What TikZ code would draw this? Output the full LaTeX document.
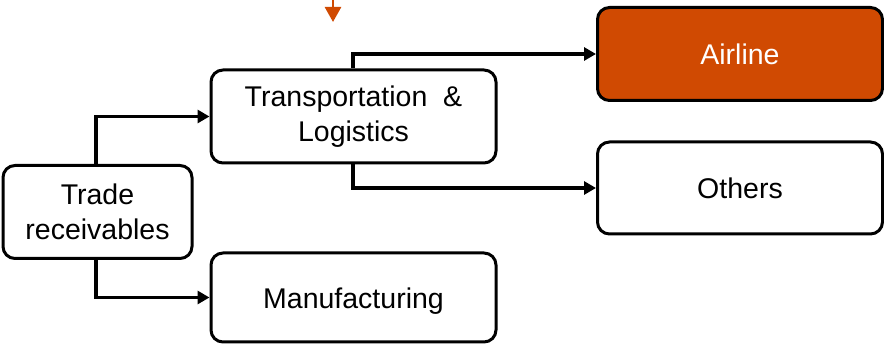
\documentclass[tikz,border=0pt]{standalone}
\usepackage{fontspec}
\setmainfont{Liberation Sans}
\usetikzlibrary{arrows.meta}
\definecolor{pwcorange}{HTML}{D04A02}
\begin{document}
\begin{tikzpicture}[x=1pt,y=-1pt,
  box/.style={draw=black, line width=3pt, rounded corners=12pt, fill=white,
    align=center, font=\fontsize{28.5}{34.5}\selectfont, inner sep=0pt},
  conn/.style={line width=3.4pt, -{Triangle[length=12pt,width=13pt]}}]
\useasboundingbox (0,0) rectangle (884,344);
\node[box, minimum width=189pt, minimum height=93pt] (trade) at (97.5,212) {Trade\\receivables};
\node[box, minimum width=285pt, minimum height=93pt] (trans) at (353.5,116.5) {Transportation\ \ \&\\Logistics};
\node[box, minimum width=285pt, minimum height=89pt] (manu) at (353.5,297.5) {\raisebox{-4pt}[\height][\depth]{Manufacturing}};
\node[box, fill=pwcorange, text=white, minimum width=285pt, minimum height=93pt] (air) at (740,54) {Airline};
\node[box, minimum width=285pt, minimum height=92pt] (oth) at (740,188) {Others};
\coordinate (top) at (333,0);
\draw[conn] (trade.north -| 96,0) |- (trans.west);
\draw[conn] (trade.south -| 96,0) |- (manu.west);
\draw[conn] (trans.north -| 353,0) |- (air.west);
\draw[conn] (trans.south -| 353,0) |- (oth.west);
\draw[line width=2.6pt, draw=pwcorange, -{Triangle[length=15pt,width=16pt]}, pwcorange] (top) -- ++(0,22);
\end{tikzpicture}
\end{document}
